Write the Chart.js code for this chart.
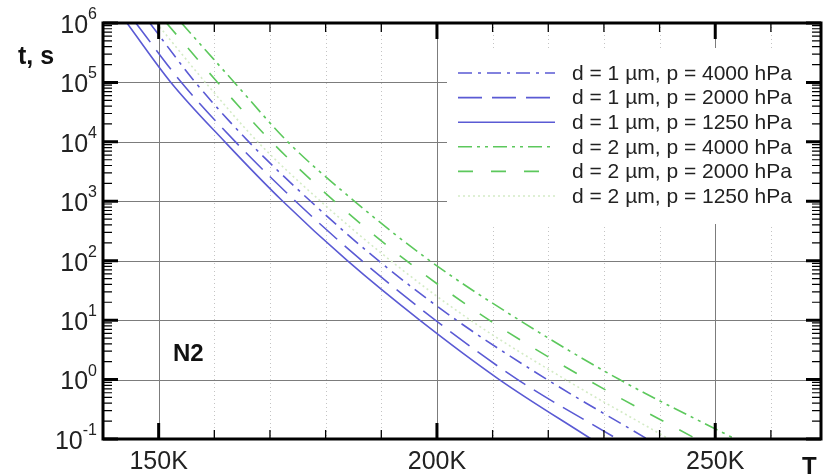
<!DOCTYPE html>
<html><head><meta charset="utf-8">
<script src="https://cdn.jsdelivr.net/npm/chart.js@4"></script>
<style>html,body{margin:0;padding:0;background:#fff}#wrap{width:823px;height:475px;position:relative}</style>
</head><body><div id="wrap"><canvas id="c" width="823" height="475"></canvas></div>
<script>
// ---- data ----
const tValues = [1e6, 1e5, 1e4, 1e3, 1e2, 1e1, 1e0, 1e-1];        // t, s (decade crossings)
const T_d1_p4000 = [148.4, 156.6, 166.2, 177.3, 189.5, 203.5, 219.8, 237.8];
const T_d1_p2000 = [145.9, 154.1, 163.8, 174.6, 186.5, 199.7, 214.5, 232.4];
const T_d1_p1250 = [144.3, 152.2, 161.9, 172.3, 183.9, 196.9, 211.2, 227.7];
const T_d2_p4000 = [154.1, 163.6, 173.2, 185.2, 198.7, 214.8, 232.8, 253.6];
const T_d2_p2000 = [151.4, 160.6, 170.3, 181.6, 194.5, 209.4, 227.0, 246.6];
const T_d2_p1250 = [149.6, 158.4, 167.8, 179.1, 191.7, 206.0, 223.1, 241.7];
const seriesLabels = [
  'd = 1 \u00b5m, p = 4000 hPa',
  'd = 1 \u00b5m, p = 2000 hPa',
  'd = 1 \u00b5m, p = 1250 hPa',
  'd = 2 \u00b5m, p = 4000 hPa',
  'd = 2 \u00b5m, p = 2000 hPa',
  'd = 2 \u00b5m, p = 1250 hPa'
];
const xMajorTicks = [150, 200, 250];
const xTickLabels = ['150K', '200K', '250K'];
const xAllTicks = [150, 160, 170, 180, 190, 200, 210, 220, 230, 240, 250, 260];
const yExponents = [6, 5, 4, 3, 2, 1, 0, -1];

// ---- styles ----
const BLUE = '#5a5ad4', GREEN = '#5cc85c', DOT = '#d4ebc6';
const FONT = '"Liberation Sans", Arial, sans-serif';

function pts(Ts) { return Ts.map((T, i) => ({ x: T, y: tValues[i] })); }
const seriesT = [T_d1_p4000, T_d1_p2000, T_d1_p1250, T_d2_p4000, T_d2_p2000, T_d2_p1250];
const styles = [
  { c: BLUE, dash: [14, 6, 3, 6] },
  { c: BLUE, dash: [24, 10] },
  { c: BLUE, dash: [] },
  { c: GREEN, dash: [14, 5, 3, 5, 3, 5] },
  { c: GREEN, dash: [15, 18] },
  { c: DOT, dash: [2, 3] }
];
const datasets = seriesT.map((Ts, i) => ({
  label: seriesLabels[i],
  data: pts(Ts),
  borderColor: styles[i].c,
  borderDash: styles[i].dash,
  borderWidth: 1.6,
  pointRadius: 0,
  fill: false,
  cubicInterpolationMode: 'monotone'
}));

const decor = {
  id: 'decor',
  beforeDatasetsDraw(chart) {
    const { ctx, chartArea: a, scales: { x, y } } = chart;
    ctx.save();
    ctx.lineWidth = 1;
    ctx.strokeStyle = '#c4c4c4';
    ctx.setLineDash([1, 3]);
    xAllTicks.filter(v => !xMajorTicks.includes(v)).forEach(v => {
      const px = Math.round(x.getPixelForValue(v)) + 0.5;
      ctx.beginPath(); ctx.moveTo(px, a.top); ctx.lineTo(px, a.bottom); ctx.stroke();
    });
    ctx.setLineDash([]);
    ctx.strokeStyle = '#7c7c7c';
    xMajorTicks.forEach(v => {
      const px = Math.round(x.getPixelForValue(v)) + 0.5;
      ctx.beginPath(); ctx.moveTo(px, a.top); ctx.lineTo(px, a.bottom); ctx.stroke();
    });
    yExponents.slice(1, -1).forEach(e => {
      const py = Math.round(y.getPixelForValue(Math.pow(10, e))) + 0.5;
      ctx.beginPath(); ctx.moveTo(a.left, py); ctx.lineTo(a.right, py); ctx.stroke();
    });
    ctx.restore();
  },
  afterDatasetsDraw(chart) {
    const { ctx, chartArea: a, scales: { x, y } } = chart;
    ctx.save();
    ctx.strokeStyle = '#000';
    xAllTicks.forEach(v => {
      const major = xMajorTicks.includes(v);
      const px = x.getPixelForValue(v);
      const len = major ? 16 : 9;
      ctx.lineWidth = major ? 3 : 1.3;
      ctx.beginPath();
      ctx.moveTo(px, a.bottom); ctx.lineTo(px, a.bottom - len);
      ctx.moveTo(px, a.top); ctx.lineTo(px, a.top + len);
      ctx.stroke();
    });
    yExponents.forEach(e => {
      const py = y.getPixelForValue(Math.pow(10, e));
      ctx.lineWidth = 3;
      ctx.beginPath();
      ctx.moveTo(a.left, py); ctx.lineTo(a.left + 15, py);
      ctx.moveTo(a.right, py); ctx.lineTo(a.right - 15, py);
      ctx.stroke();
      if (e < 6) {
        ctx.lineWidth = 1.2;
        for (let k = 2; k <= 9; k++) {
          const pm = y.getPixelForValue(k * Math.pow(10, e));
          ctx.beginPath();
          ctx.moveTo(a.left, pm); ctx.lineTo(a.left + 9, pm);
          ctx.moveTo(a.right, pm); ctx.lineTo(a.right - 9, pm);
          ctx.stroke();
        }
      }
    });
    ctx.lineWidth = 3;
    ctx.strokeRect(a.left, a.top, a.right - a.left, a.bottom - a.top);

    ctx.fillStyle = '#222';
    yExponents.forEach(e => {
      const py = y.getPixelForValue(Math.pow(10, e));
      const ex = String(e);
      ctx.font = '16px ' + FONT;
      const ew = ctx.measureText(ex).width;
      const right = a.left - 6;
      ctx.textAlign = 'left'; ctx.textBaseline = 'alphabetic';
      ctx.fillText(ex, right - ew, py - 4);
      ctx.font = '25px ' + FONT;
      ctx.textAlign = 'right'; ctx.textBaseline = 'middle';
      ctx.fillText('10', right - ew, py + 3);
    });

    ctx.fillStyle = '#111';
    ctx.font = 'bold 25px ' + FONT;
    ctx.textAlign = 'left'; ctx.textBaseline = 'middle';
    ctx.fillText('t, s', 18, 57);
    ctx.font = 'bold 24px ' + FONT;
    ctx.fillText('N2', 173, 354);
    ctx.fillText('T', 802, 467);

    ctx.fillStyle = '#fff';
    ctx.fillRect(447, 48, 359, 176);
    chart.data.datasets.forEach((ds, i) => {
      const ry = 73 + i * 24.6;
      ctx.strokeStyle = ds.borderColor;
      ctx.lineWidth = ds.borderWidth;
      ctx.setLineDash(ds.borderDash);
      ctx.beginPath(); ctx.moveTo(458, ry); ctx.lineTo(555, ry); ctx.stroke();
      ctx.setLineDash([]);
      ctx.fillStyle = '#222';
      ctx.font = '21px ' + FONT;
      ctx.textAlign = 'left'; ctx.textBaseline = 'middle';
      ctx.fillText(ds.label, 572, ry + 1);
    });
    ctx.restore();
  }
};

new Chart(document.getElementById('c'), {
  type: 'line',
  data: { datasets },
  options: {
    responsive: false,
    animation: false,
    devicePixelRatio: 1,
    layout: { padding: { top: 23, right: 2, left: 0, bottom: 0 } },
    plugins: { legend: { display: false }, tooltip: { enabled: false } },
    scales: {
      x: {
        type: 'linear', min: 140, max: 269,
        afterBuildTicks: s => { s.ticks = xAllTicks.map(v => ({ value: v })); },
        afterFit: s => { s.height = 36; },
        grid: { display: false }, border: { display: false },
        ticks: {
          autoSkip: false, maxRotation: 0, padding: 0, color: '#222',
          font: { family: FONT, size: 25 },
          callback: v => { const i = xMajorTicks.indexOf(v); return i >= 0 ? xTickLabels[i] : ''; }
        }
      },
      y: {
        type: 'logarithmic', min: 0.1, max: 1e6,
        afterBuildTicks: s => { s.ticks = tValues.map(v => ({ value: v })); },
        afterFit: s => { s.width = 103; },
        grid: { display: false }, border: { display: false },
        ticks: { display: false }
      }
    }
  },
  plugins: [decor]
});
</script></body></html>
